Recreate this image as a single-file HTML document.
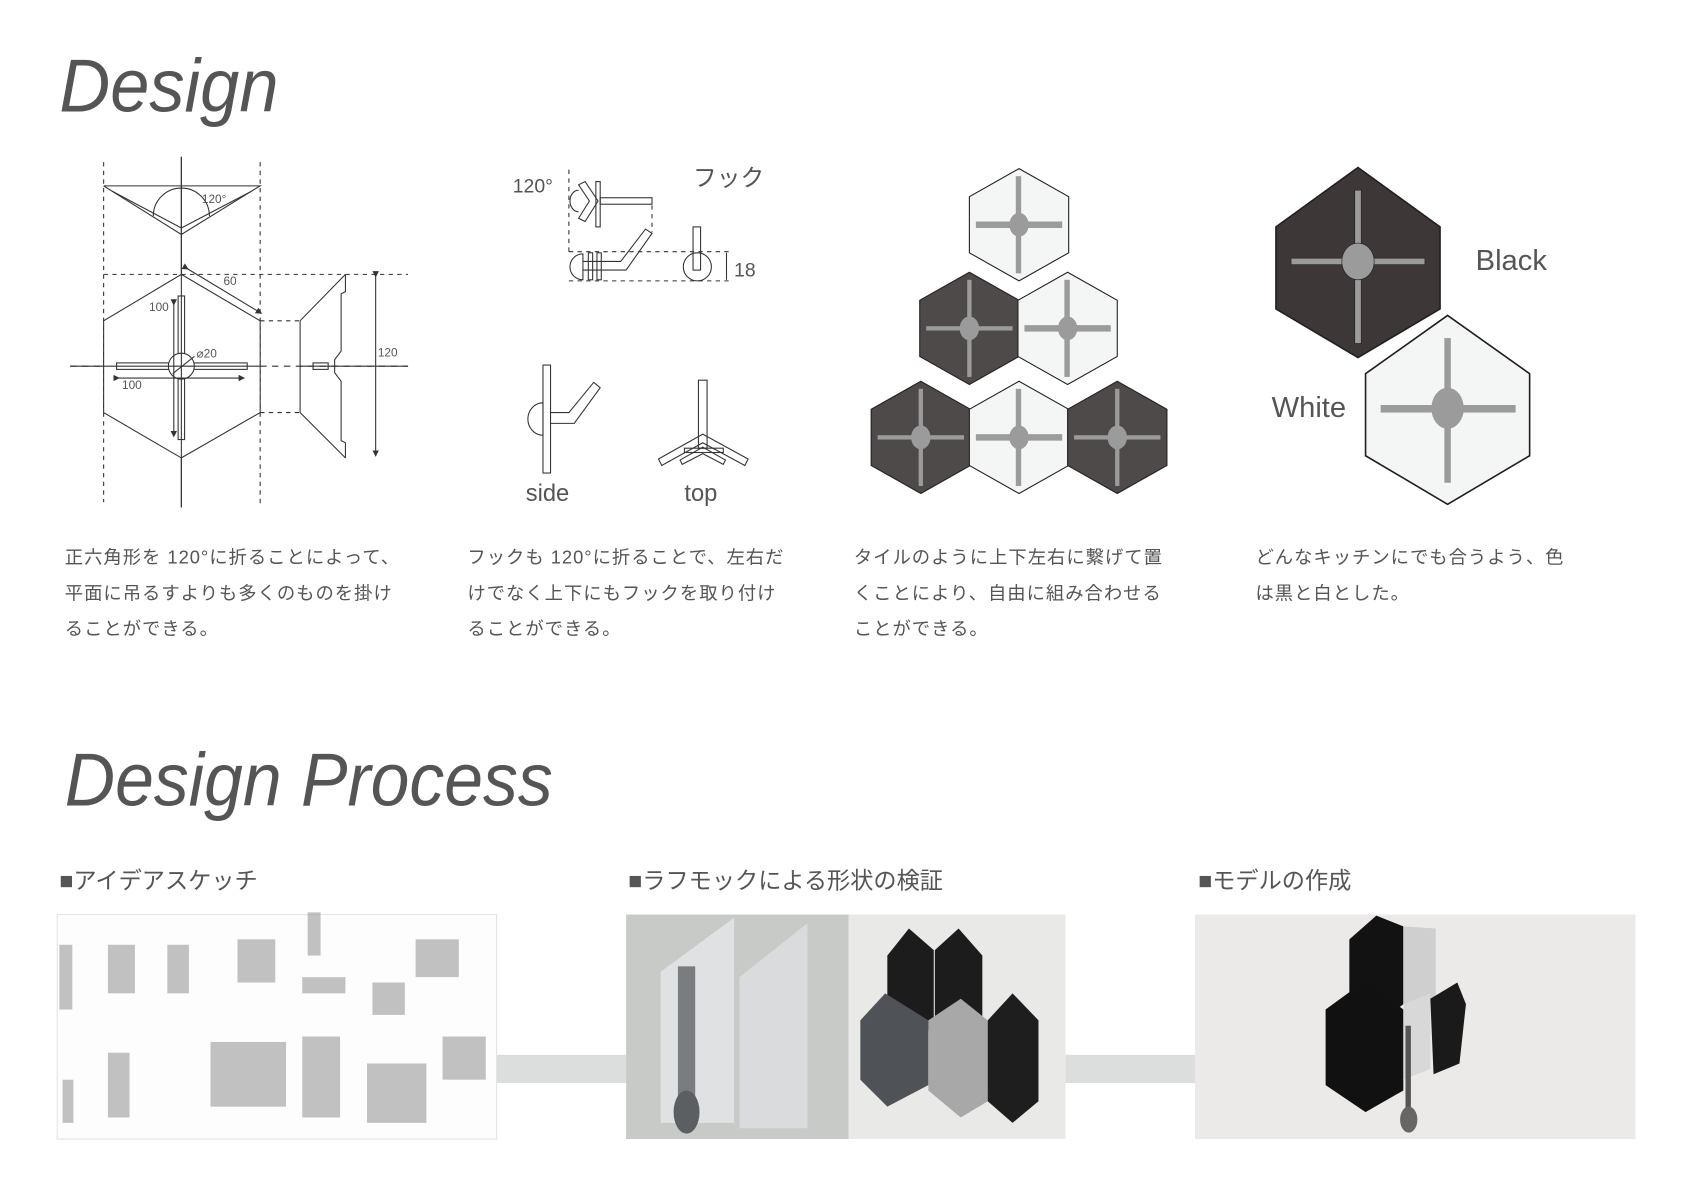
<!DOCTYPE html>
<html><head><meta charset="utf-8"><style>
html,body{margin:0;padding:0;background:#fff;}
svg{display:block;}
.t{font-family:"Liberation Sans","Noto Sans CJK JP",sans-serif;fill:#555;}
</style></head><body>
<svg width="1684" height="1190" viewBox="0 0 1560 1102" xmlns="http://www.w3.org/2000/svg">
<defs>
<marker id="ar" markerWidth="6" markerHeight="6" refX="5" refY="3" orient="auto"><path d="M0,0 L6,3 L0,6 z" fill="#333"/></marker>
<g id="hx"><polygon points="0,-52 46,-26 46,26 0,52 -46,26 -46,-26"/></g>
</defs>
<text class="t" x="55" y="103" font-size="70" font-style="italic" textLength="203" lengthAdjust="spacingAndGlyphs">Design</text>
<text class="t" x="60" y="746" font-size="70" font-style="italic" textLength="452" lengthAdjust="spacingAndGlyphs">Design Process</text>

<!-- drawing 1 -->
<g stroke="#333" fill="none" stroke-width="1">
<line x1="168" y1="145" x2="168" y2="470"/>
<line x1="96" y1="150" x2="96" y2="465" stroke-dasharray="4,4"/>
<line x1="241" y1="150" x2="241" y2="470" stroke-dasharray="4,4"/>
<line x1="96" y1="254" x2="378" y2="254" stroke-dasharray="4,4"/>
<line x1="65" y1="339" x2="378" y2="339" stroke-dasharray="6,5"/>
<polyline points="96,172 241,172 168,217 96,172"/>
<polyline points="104,177 168,211 233,177"/>
<path d="M142,200 A26,26 0 0 1 194,200"/>
<polygon points="168,254 241,297 241,382 168,424 96,382 96,297" fill="#fff"/>
<rect x="108" y="336" width="121" height="6" fill="#fff"/>
<rect x="165" y="274" width="6" height="133" fill="#fff"/>
<circle cx="168" cy="339" r="12" fill="#fff"/>
<line x1="168" y1="145" x2="168" y2="470"/>
<line x1="65" y1="339" x2="241" y2="339"/>
<line x1="241" y1="297" x2="278" y2="297" stroke-dasharray="4,4"/>
<line x1="241" y1="382" x2="278" y2="382" stroke-dasharray="4,4"/>
<polyline points="320,254 278,297 278,382 320,424"/>
<polyline points="320,254 320,270 316,272 316,325 310,333 310,345 316,353 316,408 320,410 320,424"/>
<rect x="290" y="336" width="14" height="6"/>
<line x1="278" y1="339" x2="378" y2="339"/>
<line x1="348" y1="256" x2="348" y2="422" marker-end="url(#ar)" marker-start="url(#ar)"/>
<line x1="174" y1="249" x2="242" y2="290" marker-end="url(#ar)" marker-start="url(#ar)"/>
<line x1="161" y1="282" x2="161" y2="404" marker-end="url(#ar)" marker-start="url(#ar)"/>
<line x1="110" y1="350" x2="226" y2="350" marker-end="url(#ar)" marker-start="url(#ar)"/>
<line x1="160" y1="346" x2="180" y2="330"/>
</g>
<g class="t" font-size="11">
<text x="187" y="188">120°</text><text x="207" y="264">60</text>
<text x="138" y="288">100</text><text x="113" y="360">100</text>
<text x="182" y="331">⌀20</text><text x="350" y="330">120</text>
</g>

<!-- drawing 2 -->
<g stroke="#333" fill="none" stroke-width="1">
<line x1="527" y1="157" x2="527" y2="235" stroke-dasharray="4,4"/>
<line x1="604" y1="190" x2="604" y2="215" stroke-dasharray="4,4"/>
<line x1="527" y1="233" x2="677" y2="233" stroke-dasharray="4,4"/>
<line x1="527" y1="260" x2="677" y2="260" stroke-dasharray="4,4"/>
<line x1="673" y1="234" x2="673" y2="259"/>
<path d="M536,171 L546,186 L536,202 L542,205 L554,186 L542,168 Z"/>
<path d="M536,176 A8,10 0 0 0 536,196"/>
<rect x="552" y="168" width="4" height="42"/>
<rect x="556" y="183" width="48" height="6"/>
<path d="M540,235 A12,12 0 0 0 540,259 Z"/>
<rect x="545" y="234" width="4" height="25"/><rect x="553" y="234" width="4" height="25"/>
<path d="M540,242 L575,242 L598,212 L604,216 L580,250 L540,250"/>
<circle cx="646" cy="247" r="13"/>
<rect x="642" y="210" width="7" height="40"/>
<rect x="503" y="338" width="7" height="100"/>
<path d="M503,373 A14,15 0 0 0 503,403 Z"/>
<path d="M510,382 L527,382 L550,354 L556,359 L532,392 L510,392"/>
<rect x="647" y="352" width="8" height="63"/>
<rect x="634" y="415" width="36" height="4"/>
<path d="M610,425 L651,402 L693,425 L690,431 L651,410 L613,431 Z"/>
<path d="M630,426 L651,414 L672,426 L670,430 L651,420 L632,430 Z"/>
</g>
<g class="t"><text x="475" y="178" font-size="18">120°</text>
<text x="642" y="172" font-size="22">フック</text>
<text x="680" y="256" font-size="18">18</text>
<text x="487" y="464" font-size="22">side</text>
<text x="634" y="464" font-size="22">top</text></g>

<!-- drawing 3 -->
<g stroke="#231f20" stroke-width="1">
<g transform="translate(944,208)"><use href="#hx" fill="#f4f6f5"/></g>
<g transform="translate(898,304)"><use href="#hx" fill="#4f4a4a"/></g>
<g transform="translate(989,304)"><use href="#hx" fill="#f4f6f5"/></g>
<g transform="translate(853,405)"><use href="#hx" fill="#4f4a4a"/></g>
<g transform="translate(944,405)"><use href="#hx" fill="#f4f6f5"/></g>
<g transform="translate(1035,405)"><use href="#hx" fill="#4f4a4a"/></g>
</g>
<g fill="#9b9b9b">
<g transform="translate(944,208)"><rect x="-40" y="-3" width="80" height="6"/><rect x="-3" y="-45" width="5" height="90"/><ellipse rx="9" ry="11"/></g>
<g transform="translate(898,304)"><rect x="-40" y="-2" width="80" height="4"/><rect x="-2" y="-45" width="4" height="90"/><ellipse rx="9" ry="11"/></g>
<g transform="translate(989,304)"><rect x="-40" y="-3" width="80" height="6"/><rect x="-3" y="-45" width="5" height="90"/><ellipse rx="9" ry="11"/></g>
<g transform="translate(853,405)"><rect x="-40" y="-2" width="80" height="4"/><rect x="-2" y="-45" width="4" height="90"/><ellipse rx="9" ry="11"/></g>
<g transform="translate(944,405)"><rect x="-40" y="-3" width="80" height="6"/><rect x="-3" y="-45" width="5" height="90"/><ellipse rx="9" ry="11"/></g>
<g transform="translate(1035,405)"><rect x="-40" y="-2" width="80" height="4"/><rect x="-2" y="-45" width="4" height="90"/><ellipse rx="9" ry="11"/></g>
</g>

<!-- drawing 4 -->
<polygon points="1258,155 1334,210 1334,286 1258,331 1182,286 1182,210" fill="#3e3738" stroke="#231f20" stroke-width="1.5"/>
<polygon points="1341,292 1417,346 1417,422 1341,467 1265,422 1265,346" fill="#f4f6f5" stroke="#231f20" stroke-width="1.5"/>
<g fill="#9b9b9b" stroke="#222" stroke-width="0.6">
<rect x="1196" y="239" width="124" height="6"/><rect x="1255" y="176" width="6" height="142"/><ellipse cx="1258" cy="242" rx="15" ry="17"/>
</g>
<g fill="#9b9b9b">
<rect x="1279" y="375" width="125" height="7"/><rect x="1338" y="313" width="6" height="134"/><ellipse cx="1341" cy="378" rx="15" ry="19"/>
</g>
<g class="t" font-size="27"><text x="1367" y="250">Black</text><text x="1178" y="386">White</text></g>

<!-- paragraphs -->
<g class="t" font-size="17" letter-spacing="0.9">
<text x="60" y="522">正六角形を 120°に折ることによって、</text>
<text x="60" y="555">平面に吊るすよりも多くのものを掛け</text>
<text x="60" y="588">ることができる。</text>
<text x="433" y="522">フックも 120°に折ることで、左右だ</text>
<text x="433" y="555">けでなく上下にもフックを取り付け</text>
<text x="433" y="588">ることができる。</text>
<text x="791" y="522">タイルのように上下左右に繋げて置</text>
<text x="791" y="555">くことにより、自由に組み合わせる</text>
<text x="791" y="588">ことができる。</text>
<text x="1163" y="522">どんなキッチンにでも合うよう、色</text>
<text x="1163" y="555">は黒と白とした。</text>
</g>

<g class="t" font-size="21.5">
<text x="55" y="823">■アイデアスケッチ</text>
<text x="582" y="823">■ラフモックによる形状の検証</text>
<text x="1110" y="823">■モデルの作成</text>
</g>

<rect x="460" y="977" width="120" height="26" fill="#dcdedd"/>
<rect x="987" y="977" width="120" height="26" fill="#dcdedd"/>

<!-- sketch panel -->
<rect x="53" y="847" width="407" height="208" fill="#fdfdfd" stroke="#e4e4e4"/>
<g fill="#9a9a9a" opacity="0.6">
<rect x="100" y="875" width="25" height="45"/><rect x="155" y="875" width="20" height="45"/>
<rect x="220" y="870" width="35" height="40"/><rect x="285" y="845" width="12" height="40"/>
<rect x="280" y="905" width="40" height="15"/><rect x="385" y="870" width="40" height="35"/>
<rect x="55" y="875" width="12" height="60"/><rect x="100" y="975" width="20" height="60"/>
<rect x="195" y="965" width="70" height="60"/><rect x="280" y="960" width="35" height="75"/>
<rect x="340" y="985" width="55" height="55"/><rect x="410" y="960" width="40" height="40"/>
<rect x="345" y="910" width="30" height="30"/><rect x="58" y="1000" width="10" height="40"/>
</g>
<!-- mock panel -->
<rect x="580" y="847" width="206" height="208" fill="#c8cac8"/>
<rect x="786" y="847" width="201" height="208" fill="#e9e9e7"/>
<polygon points="612,900 680,850 680,1040 612,1040" fill="#dfe1e3"/>
<polygon points="685,905 748,855 748,1045 685,1045" fill="#d9dbdc"/>
<rect x="628" y="895" width="16" height="150" fill="#7a7d80"/>
<ellipse cx="636" cy="1030" rx="12" ry="20" fill="#5c5f62"/>
<polygon points="822,885 842,860 865,880 865,950 842,970 822,950" fill="#1c1c1c"/>
<polygon points="866,880 888,860 910,885 910,955 888,970 866,950" fill="#1c1c1c"/>
<polygon points="797,945 820,920 860,945 860,1005 822,1025 797,1000" fill="#4f5357"/>
<polygon points="860,945 890,925 915,945 915,1020 890,1035 860,1010" fill="#a8a8a8"/>
<polygon points="915,945 938,920 962,945 962,1020 938,1040 915,1020" fill="#1e1e1e"/>
<!-- model panel -->
<rect x="1107" y="847" width="408" height="208" fill="#ece9e9"/>
<polygon points="1250,870 1275,848 1300,858 1300,930 1275,950 1250,930" fill="#121212"/>
<polygon points="1300,858 1330,860 1330,925 1300,930" fill="#cfcfcf"/>
<polygon points="1228,935 1265,908 1300,935 1300,1010 1265,1030 1228,1005" fill="#111"/>
<polygon points="1300,930 1325,920 1325,990 1300,1000" fill="#d8d8d8"/>
<polygon points="1325,925 1350,910 1358,930 1352,985 1328,995" fill="#1a1a1a"/>
<rect x="1302" y="950" width="5" height="80" fill="#555"/>
<ellipse cx="1305" cy="1037" rx="8" ry="12" fill="#666"/>
</svg>
</body></html>
